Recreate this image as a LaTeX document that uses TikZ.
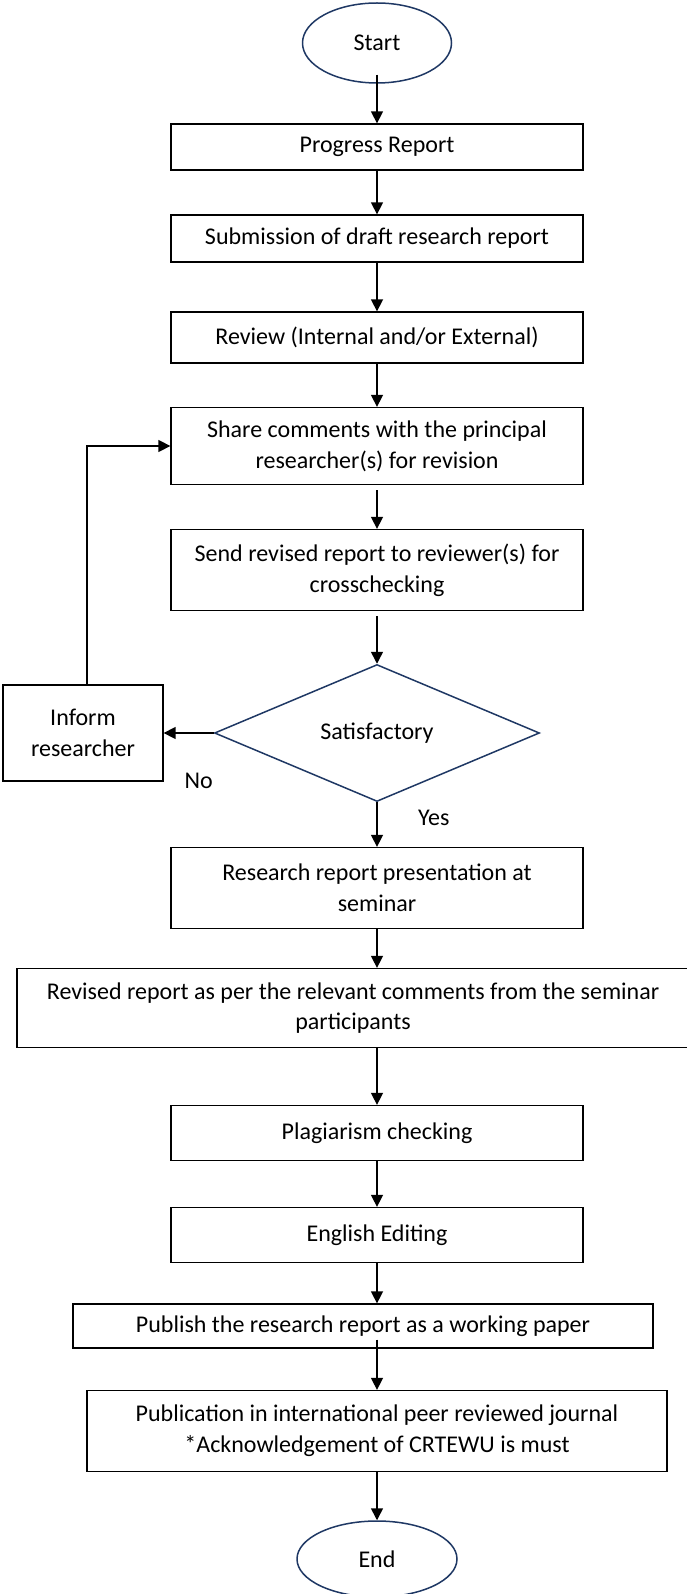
\documentclass[tikz,border=0pt]{standalone}
\usepackage{fontspec}
\setmainfont{Carlito}
\usetikzlibrary{arrows.meta,shapes.geometric}
\definecolor{navy}{RGB}{31,56,100}

\begin{document}
\begin{tikzpicture}[>={Triangle[length=12pt,width=12pt]},x=1pt,y=1pt,
	font=\fontsize{24pt}{30.7pt}\selectfont,
	box/.style={draw,line width=1.3pt,minimum width=412pt,minimum height=50pt,align=center,inner sep=2pt},
	term/.style={ellipse,draw=navy,line width=1.5pt,minimum width=149pt,minimum height=80pt},
	decision/.style={diamond,draw=navy,line width=1.5pt,minimum width=325pt,minimum height=137pt,inner sep=0pt},
	every edge/.style={draw,line width=1.5pt}]

\useasboundingbox (0,0) rectangle (686,-1594);

\node[term]   (start)      at (377,-43)     {Start};
 \node[box,minimum height=46pt] 	  (prog) [below of=start,node distance=104pt]  	{Progress Report};
	\node[box,minimum height=47pt]   (sub) [below of=prog,node distance=91.5pt]      	{Submission of draft research report};
	\node[box,minimum height=51pt] 	  (rev) [below of=sub,node distance=99pt]  	{Review (Internal and/or External)};
	\node[box,minimum height=77pt] 	  (share) [below of=rev,node distance=108.5pt]  	{Share comments with the principal\\researcher(s) for revision};
	\node[box,minimum height=81pt] 	  (send) [below of=share,node distance=124pt]  	{Send revised report to reviewer(s) for\\crosschecking};
	\node[decision] 	  (sat) [below of=send,node distance=163pt]  	{Satisfactory};
	\node[box,minimum width=160pt,minimum height=96pt] 	  (inform) [left of=sat,node distance=294pt]  	{Inform\\researcher};
	\node[box,minimum height=81pt] 	  (pres) [below of=sat,node distance=155pt]  	{Research report presentation at\\seminar};
	\node[box,minimum width=672pt,minimum height=79pt] 	  (revd) [below of=pres,node distance=120pt,xshift=-24pt]  	{Revised report as per the relevant comments from the seminar\\participants};
	\node[box,minimum height=55pt] 	  (plag) [below of=revd,node distance=125pt,xshift=24pt]  	{Plagiarism checking};
	\node[box,minimum height=55pt] 	  (eng) [below of=plag,node distance=102pt]  	{English Editing};
	\node[box,minimum width=580pt,minimum height=44pt] 	  (pub) [below of=eng,node distance=91pt,xshift=-14pt]  	{Publish the research report as a working paper};
	\node[box,minimum width=580pt,minimum height=81pt] 	  (publ) [below of=pub,node distance=105pt,xshift=14pt]  	{Publication in international peer reviewed journal\\*Acknowledgement of CRTEWU is must};
	\node[term,minimum width=160pt,minimum height=76pt] 	  (end) [below of=publ,node distance=128pt]  	{End};

	\path[->] (start)  edge[shorten <=-9pt]	(prog)
				(prog) edge (sub)
				(sub) edge (rev)
				(rev) edge (share)
				(share) edge[shorten <=5pt] (send)
				(send) edge[shorten <=5pt] (sat)
				(sat) edge node[pos=0.3,below=36pt] {No} (inform)
						edge node[pos=0.36,right=37pt] {Yes} (pres)
				(pres) edge (pres |- revd.north)
				(plag |- revd.south) edge (plag)
				(plag) edge (eng)
				(eng) edge (eng |- pub.north)
				(publ |- pub.south) edge[shorten <=-9pt] (publ)
				(publ) edge (end);
	\draw[->,line width=1.5pt] ([xshift=4pt]inform.north) |- (share.west);
\end{tikzpicture}
\end{document}
